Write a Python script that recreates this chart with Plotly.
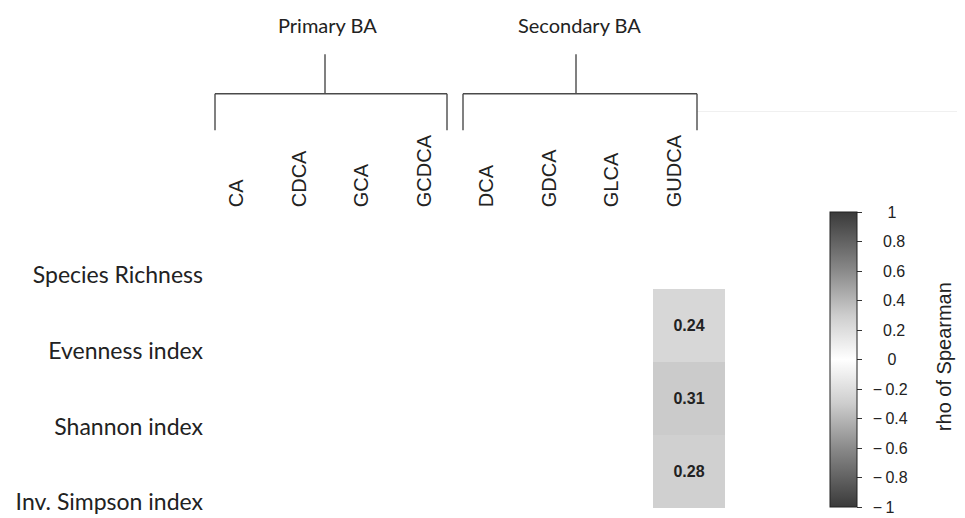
import plotly.graph_objects as go

# ---- data ----
columns = ["CA", "CDCA", "GCA", "GCDCA", "DCA", "GDCA", "GLCA", "GUDCA"]
rows = ["Species Richness", "Evenness index", "Shannon index", "Inv. Simpson index"]
groups = ["Primary BA", "Secondary BA"]
# rho values (None = not significant / blank)
rho_GLCA = [None, 0.24, 0.31, 0.28]
cbar_ticks = [1, 0.8, 0.6, 0.4, 0.2, 0, -0.2, -0.4, -0.6, -0.8, -1]
cbar_title = "rho of Spearman"

z = []
text = []
for r_i, r in enumerate(rows):
    zr, tr = [], []
    for c in columns:
        v = rho_GLCA[r_i] if c == "GLCA" else None
        zr.append(v)
        tr.append("" if v is None else f"<b>{v:.2f}</b>")
    z.append(zr)
    text.append(tr)

OFF = 8  # page body margin offset
W, H = 965 - OFF, 518 - OFF
def px(x):
    return (x - OFF) / W
def py(y):
    return (H - (y - OFF)) / H

def tick_label(t):
    digits = str(abs(t)) if t != int(t) else str(int(abs(t)))
    if t < 0:
        return "\u00a0\u2009\u2212\u2009" + digits
    if len(digits) == 1:
        return "\u2007\u2007\u00a0" + digits
    return "\u2007\u2007" + digits

colorscale = [
    [0.0, "#3a3a3a"], [0.2, "#8a8a8a"], [0.35, "#cdcdcd"], [0.5, "#ffffff"],
    [0.65, "#cdcdcd"], [0.8, "#8a8a8a"], [1.0, "#3a3a3a"],
]

fig = go.Figure()
fig.add_trace(go.Heatmap(
    z=z, x=columns, y=rows, text=text, texttemplate="%{text}",
    textfont=dict(family="Liberation Sans, Arial", size=16, color="#222222"),
    zmin=-1, zmax=1, colorscale=colorscale, hoverinfo="skip",
    xaxis="x", yaxis="y",
    colorbar=dict(
        x=px(830), xanchor="left", xpad=0, ypad=0,
        y=py(364.5), yanchor="middle",
        thicknessmode="pixels", thickness=27,
        lenmode="pixels", len=295,
        outlinewidth=1, outlinecolor="#222222",
        ticks="outside", ticklen=5, tickcolor="#333333",
        tickvals=cbar_ticks,
        ticktext=[tick_label(t) for t in cbar_ticks],
        tickfont=dict(family="Liberation Sans, Arial", size=16, color="#222222"),
    ),
))

# invisible trace carrying the label axes
gx, gy = [], []
for r in rows:
    for c in columns:
        gx.append(c)
        gy.append(r)
fig.add_trace(go.Scatter(x=gx, y=gy, mode="markers", marker=dict(opacity=0),
                         hoverinfo="skip", showlegend=False,
                         xaxis="x2", yaxis="y2"))

# heatmap area (pixels) and label centre geometry (pixels)
hx0, hx1, hy0, hy1 = 221, 797, 219, 515
x0, dx = 237.0, 62.43
y0, dy = 279.0, 76.67

fig.update_layout(
    width=W, height=H,
    margin=dict(l=0, r=0, t=0, b=0),
    paper_bgcolor="white", plot_bgcolor="rgba(0,0,0,0)",
    showlegend=False,
    xaxis=dict(domain=[px(hx0), px(hx1)], anchor="y", showticklabels=False,
               ticks="", showgrid=False, zeroline=False, showline=False,
               categoryorder="array", categoryarray=columns),
    yaxis=dict(domain=[py(hy1), py(hy0)], anchor="x", showticklabels=False,
               ticks="", showgrid=False, zeroline=False, showline=False,
               autorange="reversed", categoryorder="array", categoryarray=rows),
    xaxis2=dict(type="category", categoryorder="array",
                categoryarray=columns, overlaying="x", anchor="free",
                position=py(210), side="top", tickangle=-90,
                range=[(hx0 - x0) / dx, (hx1 - x0) / dx],
                showgrid=False, zeroline=False, showline=False, ticks="",
                tickfont=dict(family="Liberation Sans, Arial", size=20, color="#222222")),
    yaxis2=dict(type="category", categoryorder="array",
                categoryarray=rows, overlaying="y", anchor="free",
                position=px(203), side="left",
                range=[(hy1 - y0) / dy, (hy0 - y0) / dy],
                showgrid=False, zeroline=False, showline=False, ticks="",
                tickfont=dict(family="Lato, Open Sans", size=23, color="#222222")),
)

# colorbar title
fig.add_annotation(x=px(944), y=py(362), xref="paper", yref="paper",
                   text=cbar_title, textangle=-90, showarrow=False,
                   xanchor="center", yanchor="middle",
                   font=dict(family="Liberation Sans, Arial", size=20, color="#222222"))

# faint rule to the right of the brackets
fig.add_shape(type="line", xref="paper", yref="paper",
              x0=px(697), x1=px(965), y0=py(113), y1=py(113),
              line=dict(color="#f0f0f0", width=1))

# group brackets
line = dict(color="#4a4a4a", width=1.4)
brackets = [(215, 447, 325), (463, 697, 576)]
title_x = [327, 579]
for (xa, xb, xm), g, tx in zip(brackets, groups, title_x):
    fig.add_shape(type="line", xref="paper", yref="paper",
                  x0=px(xa), x1=px(xb), y0=py(95), y1=py(95), line=line)
    fig.add_shape(type="line", xref="paper", yref="paper",
                  x0=px(xa), x1=px(xa), y0=py(95), y1=py(132), line=line)
    fig.add_shape(type="line", xref="paper", yref="paper",
                  x0=px(xb), x1=px(xb), y0=py(95), y1=py(132), line=line)
    fig.add_shape(type="line", xref="paper", yref="paper",
                  x0=px(xm), x1=px(xm), y0=py(55), y1=py(95), line=line)
    fig.add_annotation(x=px(tx), y=py(25), xref="paper", yref="paper",
                       text=g, showarrow=False, xanchor="center", yanchor="middle",
                       font=dict(family="Lato, Open Sans", size=20, color="#222222"))

fig.write_html("out.html")
